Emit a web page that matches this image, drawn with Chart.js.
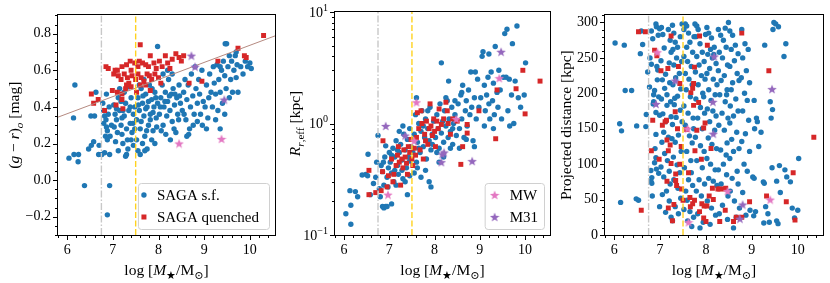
<!DOCTYPE html>
<html><head><meta charset="utf-8">
<script src="https://cdn.jsdelivr.net/npm/chart.js@4.4.0/dist/chart.umd.min.js"></script>
<style>
html,body{margin:0;padding:0;background:#fff;}
#wrap{position:relative;width:830px;height:283px;overflow:hidden;}
canvas{position:absolute;top:0;}
</style></head><body>
<div id="wrap">
<canvas id="c1" width="280" height="283" style="left:0px"></canvas>
<canvas id="c2" width="275" height="283" style="left:280px"></canvas>
<canvas id="c3" width="275" height="283" style="left:555px"></canvas>
</div>
<script>
// ---------------- data ----------------
const massTicks = [6, 7, 8, 9, 10];
const colorTicks = [-0.2, 0, 0.2, 0.4, 0.6, 0.8];
const sizeTicks = [0.1, 1, 10];
const distTicks = [0, 50, 100, 150, 200, 250, 300];
const limitLines = [6.75, 7.5];
const divideLineX = [5.8, 10.55];
const divideLineY = [0.344, 0.788];

// panel 1: (g-r)_o vs log M*
const colorSf = [
[6.04,0.12],[6.15,0.14],[6.25,0.14],[6.24,0.10],[6.17,0.52],[6.14,0.34],[6.38,-0.03],[6.93,-0.03],[6.88,-0.19],
[6.47,0.17],[6.53,0.19],[6.58,0.21],[6.52,0.35],[6.60,0.35],[6.63,0.48],[6.70,0.19],[6.69,0.14],[6.76,0.14],[6.82,0.15],[6.93,0.14],[6.88,0.27],[6.86,0.47],
[6.80,0.38],[6.82,0.35],[6.85,0.33],[6.80,0.31],[6.86,0.29],[6.90,0.36],[6.92,0.40],[6.88,0.22],[6.94,0.24],[6.97,0.30],[6.84,0.24],[6.78,0.42],
[7.02,0.41],[7.05,0.36],[7.08,0.33],[7.03,0.29],[7.10,0.26],[7.06,0.21],[7.12,0.45],[7.15,0.38],[7.18,0.30],[7.20,0.25],[7.22,0.20],[7.25,0.35],[7.28,0.42],[7.30,0.28],[7.32,0.22],[7.35,0.38],[7.38,0.31],[7.40,0.45],[7.42,0.26],[7.45,0.36],[7.48,0.40],[7.12,0.16],[7.30,0.14],[7.33,0.17],[7.45,0.19],[7.20,0.34],[7.25,0.48],[7.15,0.50],[7.35,0.51],[7.40,0.22],[7.28,0.13],[7.18,0.43],[7.08,0.39],[7.38,0.40],[7.22,0.38],[7.48,0.28],[7.44,0.31],
[7.52,0.33],[7.55,0.45],[7.58,0.38],[7.60,0.28],[7.62,0.50],[7.65,0.42],[7.68,0.35],[7.70,0.24],[7.72,0.47],[7.75,0.40],[7.78,0.30],[7.80,0.52],[7.82,0.36],[7.85,0.44],[7.88,0.27],[7.90,0.40],[7.92,0.48],[7.95,0.34],[7.98,0.42],[7.55,0.16],[7.60,0.14],[7.70,0.16],[7.52,0.22],[7.65,0.20],[7.75,0.17],[7.85,0.22],[7.92,0.20],[7.58,0.52],[7.68,0.55],[7.78,0.43],[7.88,0.37],[7.96,0.29],[7.62,0.32],[7.72,0.39],[7.82,0.33],[7.66,0.46],[7.86,0.50],[7.94,0.45],[7.56,0.41],[7.74,0.27],
[8.02,0.36],[8.05,0.45],[8.08,0.52],[8.10,0.30],[8.12,0.40],[8.15,0.48],[8.18,0.35],[8.20,0.43],[8.22,0.55],[8.25,0.38],[8.28,0.47],[8.30,0.32],[8.32,0.50],[8.35,0.41],[8.38,0.26],[8.40,0.45],[8.42,0.36],[8.45,0.52],[8.48,0.42],[8.06,0.27],[8.16,0.25],[8.26,0.22],[8.34,0.28],[8.44,0.33],[8.10,0.58],[8.20,0.60],[8.30,0.58],[8.14,0.43],[8.24,0.46],[8.36,0.47],[8.04,0.40],[8.46,0.46],[7.98,0.73],
[8.52,0.38],[8.55,0.48],[8.58,0.55],[8.60,0.33],[8.62,0.44],[8.65,0.52],[8.68,0.28],[8.70,0.40],[8.72,0.58],[8.75,0.46],[8.78,0.36],[8.80,0.62],[8.82,0.50],[8.85,0.42],[8.88,0.55],[8.90,0.47],[8.92,0.36],[8.95,0.60],[8.98,0.43],[8.66,0.25],[8.62,0.24],[8.85,0.32],[8.56,0.36],[8.76,0.30],[8.96,0.30],
[9.02,0.40],[9.05,0.52],[9.08,0.34],[9.10,0.45],[9.12,0.58],[9.15,0.48],[9.18,0.40],[9.20,0.62],[9.22,0.53],[9.25,0.47],[9.28,0.63],[9.30,0.38],[9.32,0.55],[9.35,0.48],[9.38,0.60],[9.40,0.42],[9.42,0.65],[9.45,0.57],[9.48,0.50],[9.05,0.28],[9.25,0.33],[9.45,0.36],[9.35,0.62],
[9.46,0.745],[9.49,0.745],[9.52,0.62],[9.55,0.68],[9.58,0.55],[9.60,0.65],[9.62,0.48],[9.65,0.60],[9.68,0.68],[9.70,0.56],[9.72,0.63],[9.70,0.70],[9.74,0.48],[9.80,0.62],[9.85,0.58],[9.90,0.65],[9.95,0.62],[10.0,0.64],[10.03,0.61],[9.55,0.45],[9.35,0.28]
];
const colorQ = [
[7.60,0.74],[10.30,0.79],[9.74,0.72],[9.88,0.68],[9.92,0.67],[9.30,0.65],[8.95,0.54],[8.67,0.53],[8.38,0.69],[8.45,0.67],[8.15,0.68],[8.30,0.66],[7.82,0.68],[7.58,0.65],[7.38,0.65],[7.55,0.62],[7.05,0.60],[6.85,0.62],[6.90,0.61],[7.10,0.60],[7.20,0.62],[7.30,0.63],[7.40,0.60],[7.48,0.64],[7.65,0.64],[7.72,0.63],[7.78,0.62],[7.90,0.64],[7.95,0.61],[8.02,0.65],[8.08,0.62],[8.20,0.64],[8.25,0.61],[8.50,0.65],[8.55,0.68],
[7.02,0.58],[7.12,0.57],[7.18,0.55],[7.25,0.58],[7.32,0.56],[7.35,0.53],[7.42,0.57],[7.50,0.55],[7.55,0.58],[7.62,0.56],[7.68,0.54],[7.75,0.58],[7.80,0.57],[7.85,0.55],[7.92,0.58],[8.00,0.56],[8.05,0.53],[7.28,0.50],[7.40,0.51],[7.60,0.52],[7.72,0.52],[7.82,0.49],[7.20,0.47],[7.10,0.48],[6.99,0.49],[7.20,0.44],[7.22,0.39],[6.82,0.38],[7.07,0.41],[6.53,0.47],[6.58,0.42],[6.68,0.44],[7.52,0.48],[7.30,0.52]
];
const colorMW = [[8.45,0.20],[9.38,0.225]];
const colorM31 = [[8.72,0.68],[8.80,0.62],[9.44,0.44]];

// panel 2: R_eff [kpc] vs log M*
const sizeSf = [
[6.04,0.155],[6.15,0.125],[6.13,0.25],[6.15,0.185],[6.25,0.245],[6.30,0.22],[6.40,0.345],[6.48,0.35],[6.52,0.34],[6.53,0.53],[6.58,0.23],[6.65,0.29],[6.70,0.33],[6.72,0.45],[6.75,0.78],[6.80,0.22],[6.85,0.18],[6.88,0.175],[6.92,0.18],[6.95,0.18],[7.05,0.19],[6.85,0.37],[6.82,0.42],[6.90,0.50],[6.95,0.33],[6.78,0.26],[6.88,0.28],[6.98,0.40],[7.0,0.55],[6.92,0.63],[6.87,0.45],[6.97,0.27],
[7.02,0.45],[7.05,0.36],[7.08,0.60],[7.10,0.30],[7.12,0.50],[7.15,0.70],[7.18,0.42],[7.20,0.35],[7.22,0.55],[7.25,0.65],[7.28,0.47],[7.30,0.32],[7.32,0.80],[7.35,0.58],[7.38,0.40],[7.40,0.72],[7.42,0.50],[7.45,0.90],[7.48,0.62],[7.15,0.28],[7.28,0.38],[7.40,0.23],[7.45,0.34],[7.35,0.30],[7.12,0.38],[7.22,0.85],[7.30,0.95],[7.45,0.46],[7.05,0.52],[7.18,0.58],
[7.52,0.55],[7.55,0.80],[7.58,1.20],[7.60,0.45],[7.62,0.68],[7.65,1.00],[7.68,0.55],[7.70,0.85],[7.72,1.30],[7.75,0.62],[7.78,0.75],[7.80,1.10],[7.82,0.48],[7.85,0.90],[7.88,0.70],[7.90,1.40],[7.92,0.58],[7.95,0.80],[7.98,1.05],[7.55,0.36],[7.62,0.40],[7.70,0.33],[7.80,0.38],[7.88,0.30],[7.92,0.27],[7.60,1.70],[7.85,1.30],[7.65,0.60],[7.75,0.95],[7.95,0.65],
[8.02,0.75],[8.05,1.20],[8.08,0.90],[8.10,0.60],[8.12,1.50],[8.15,0.82],[8.18,1.05],[8.20,0.68],[8.22,1.30],[8.25,0.95],[8.28,1.60],[8.30,0.75],[8.32,1.10],[8.35,0.85],[8.38,1.40],[8.40,0.65],[8.42,1.00],[8.45,1.20],[8.48,0.78],[8.15,3.50],[8.31,2.40],[8.05,0.55],[8.20,0.50],[8.35,0.60],[8.25,1.70],[8.45,1.60],[8.10,0.45],[8.40,0.90],
[8.52,1.50],[8.55,0.90],[8.58,1.80],[8.60,1.10],[8.62,2.20],[8.65,0.75],[8.68,1.30],[8.70,1.60],[8.72,0.95],[8.75,2.00],[8.78,1.20],[8.80,2.90],[8.82,1.40],[8.85,0.70],[8.88,1.70],[8.90,2.90],[8.92,1.10],[8.95,2.50],[8.98,1.40],[8.55,0.60],[8.70,0.72],[8.88,0.62],[8.60,1.90],
[9.02,1.70],[9.05,4.00],[9.07,4.40],[9.10,2.20],[9.12,1.30],[9.15,1.80],[9.18,2.60],[9.20,4.20],[9.22,1.10],[9.25,2.90],[9.28,1.60],[9.30,2.30],[9.32,1.20],[9.34,4.90],[9.38,1.90],[9.40,1.40],[9.42,3.00],[9.45,2.00],[9.48,1.10],[9.10,0.95],[9.30,0.90],[9.20,1.50],
[9.52,2.60],[9.55,6.40],[9.60,7.00],[9.62,1.30],[9.65,2.50],[9.70,1.80],[9.72,5.20],[9.75,1.00],[9.78,2.40],[9.82,7.50],[9.85,1.70],[9.90,1.40],[9.98,1.80],[10.01,3.50],[9.58,2.60],[9.66,0.95]
];
const sizeQ = [
[6.55,0.38],[6.55,0.23],[6.70,0.24],[6.82,0.25],[6.85,0.37],[6.86,0.70],[6.95,0.27],[6.98,0.34],[7.05,0.48],[7.08,0.30],[7.10,0.35],[7.15,0.42],[7.18,0.52],[7.20,0.62],[7.22,0.45],[7.25,0.28],[7.28,0.48],[7.30,0.40],[7.32,0.58],[7.35,0.50],[7.38,0.44],[7.40,0.35],[7.42,0.62],[7.45,0.55],[7.48,0.72],[7.50,0.48],[7.52,0.42],[7.55,0.60],[7.58,0.52],[7.60,0.75],[7.62,1.25],[7.65,0.90],[7.68,0.58],[7.70,1.30],[7.72,1.00],[7.75,0.48],[7.78,0.80],[7.80,0.70],[7.82,1.05],[7.85,0.65],[7.88,0.90],[7.90,1.50],[7.92,0.95],[7.95,0.78],[7.98,1.10],[8.00,0.85],[8.02,0.62],[8.05,1.05],[8.08,0.90],[8.10,1.35],[8.15,0.98],[8.20,1.10],[8.25,1.55],[8.28,1.30],[8.30,1.00],[8.35,0.80],[8.40,1.10],[8.50,1.05],[8.58,0.43],[8.62,0.62],[8.72,0.98],[8.72,0.82],[8.98,1.30],[9.35,0.73],[9.38,2.00],[9.80,2.05],[9.95,3.00],[10.00,1.22],[10.33,2.40]
];
const sizeMW = [[6.97,0.23],[7.60,1.55],[7.55,0.70],[8.48,1.10],[9.43,2.55]];
const sizeM31 = [[6.92,0.95],[7.35,0.78],[8.17,0.53],[8.21,0.55],[8.15,0.45],[8.83,0.46],[9.47,4.40]];

// panel 3: projected distance [kpc] vs log M*
const distSf = [
[6.02,271],[6.22,268],[6.12,157],[6.16,147],[6.14,46],[6.24,204],[6.38,204],[6.48,51],[6.53,49],[6.49,154],[6.59,288],[6.62,269],[6.57,256],[6.69,153],[6.70,170],[6.73,230],
[6.77,209],[6.81,288],[6.84,277],[6.78,250],[6.81,241],[6.91,298],[6.92,294],[6.99,291],[6.93,238],[6.95,233],[6.94,219],[6.88,204],[6.86,198],[6.86,188],[6.91,173],[6.99,169],[6.91,142],[6.89,122],[6.91,109],[6.88,102],[6.92,93],[6.97,87],[6.80,91],[6.82,81],[6.82,73],[6.83,55],[6.99,40],[6.96,282],[6.85,185],[6.97,195],[6.80,76],
[7.03,293],[7.06,283],[7.09,264],[7.02,246],[7.12,227],[7.05,219],[7.10,207],[7.03,192],[7.15,183],[7.06,171],[7.12,160],[7.08,145],[7.18,138],[7.04,131],[7.10,115],[7.16,105],[7.02,96],[7.20,90],[7.08,82],[7.22,72],[7.14,62],[7.05,57],[7.20,48],[7.12,32],[7.24,25],[7.18,290],[7.22,275],[7.24,258],[7.20,243],[7.15,198],[7.23,188],[7.21,215],[7.24,167],
[7.27,296],[7.30,285],[7.33,272],[7.28,262],[7.36,250],[7.30,240],[7.42,228],[7.34,222],[7.28,212],[7.45,206],[7.38,196],[7.31,184],[7.44,176],[7.35,166],[7.27,156],[7.40,141],[7.33,131],[7.46,118],[7.29,110],[7.37,99],[7.43,88],[7.30,78],[7.39,66],[7.45,52],[7.33,40],[7.40,30],[7.27,20],[7.48,298],[7.44,280],[7.38,265],[7.47,245],[7.32,193],[7.48,160],[7.26,136],
[7.52,290],[7.55,298],[7.58,295],[7.62,285],[7.65,272],[7.58,265],[7.52,252],[7.60,245],[7.68,238],[7.55,228],[7.63,220],[7.70,212],[7.57,205],[7.66,195],[7.52,182],[7.61,172],[7.72,165],[7.55,155],[7.64,140],[7.70,130],[7.58,118],[7.67,105],[7.53,95],[7.62,78],[7.71,70],[7.56,62],[7.65,33],[7.73,25],[7.52,36],[7.60,20],[7.69,12],[7.74,280],[7.71,258],[7.73,150],[7.68,88],[7.59,49],
[7.76,298],[7.80,295],[7.83,290],[7.78,280],[7.87,270],[7.92,258],[7.80,252],[7.96,245],[7.85,240],[7.77,230],[7.90,225],[7.98,220],[7.83,212],[7.93,200],[7.78,192],[7.88,180],[7.97,172],[7.82,165],[7.92,150],[7.77,138],[7.88,126],[7.96,118],[7.80,105],[7.92,95],[7.85,78],[7.97,72],[7.79,62],[7.90,55],[7.82,30],[7.94,18],[7.87,10],[7.99,283],[7.95,195],
[8.02,293],[8.06,285],[8.12,278],[8.18,265],[8.04,255],[8.14,250],[8.22,242],[8.08,235],[8.02,228],[8.16,220],[8.24,212],[8.06,205],[8.20,198],[8.11,190],[8.03,178],[8.15,175],[8.22,168],[8.08,160],[8.19,148],[8.05,137],[8.13,128],[8.23,122],[8.02,108],[8.10,100],[8.20,92],[8.06,80],[8.16,76],[8.24,70],[8.03,48],[8.12,38],[8.21,28],[8.09,15],[8.17,255],[8.10,262],
[8.27,290],[8.32,282],[8.38,275],[8.44,265],[8.29,258],[8.36,250],[8.47,240],[8.27,232],[8.40,225],[8.33,218],[8.46,205],[8.30,198],[8.42,188],[8.35,172],[8.48,165],[8.28,155],[8.40,148],[8.46,130],[8.32,120],[8.44,113],[8.38,100],[8.27,92],[8.45,85],[8.33,72],[8.48,55],[8.36,42],[8.29,30],[8.47,22],[8.49,300],[8.42,292],[8.45,198],
[8.52,288],[8.58,282],[8.64,268],[8.55,262],[8.70,256],[8.62,246],[8.52,238],[8.68,228],[8.58,215],[8.72,218],[8.55,205],[8.65,192],[8.53,182],[8.70,175],[8.60,168],[8.52,158],[8.67,145],[8.56,135],[8.72,122],[8.60,118],[8.52,108],[8.68,90],[8.57,80],[8.70,72],[8.53,62],[8.62,48],[8.73,38],[8.60,10],[8.66,25],
[8.78,290],[8.85,270],[8.92,262],[8.80,250],[8.88,232],[8.77,222],[8.95,215],[8.84,200],[8.90,190],[8.80,175],[8.93,162],[8.86,143],[8.78,132],[8.95,118],[8.83,100],[8.90,90],[8.80,60],[8.96,35],[8.87,28],
[9.05,190],[9.10,165],[9.12,160],[9.06,150],[9.02,82],[9.05,80],[9.08,33],[9.04,27],[9.20,145],[9.25,75],[9.27,73],[9.30,40],[9.35,30],[9.38,18],[9.28,268],[9.40,188],[9.45,177],[9.42,165],[9.46,290],[9.48,300],[9.44,95],[9.26,17],[9.15,125],
[9.52,298],[9.58,294],[9.54,20],[9.57,16],[9.54,76],[9.60,98],[9.70,252],[9.74,270],[9.72,92],[9.76,82],[9.84,75],[9.88,38],[9.93,24],[10.02,108],[10.0,35],[9.62,60]
];
const distQ = [
[6.53,287],[6.68,287],[6.88,261],[6.84,162],[6.81,119],[6.59,35],[6.93,253],[7.02,232],[6.98,107],[7.17,235],[7.05,155],[7.11,160],[7.14,162],[7.15,134],[7.22,127],[7.18,119],[7.24,101],[7.15,76],[7.18,38],[7.27,20],[7.24,281],[7.33,174],[7.40,238],[7.43,214],[7.46,125],[7.43,100],[7.38,150],[7.34,86],[7.34,77],[7.36,70],[7.47,65],[7.50,49],[7.30,43],
[7.71,207],[7.67,201],[7.73,214],[7.75,237],[7.73,183],[7.84,187],[7.58,149],[7.62,88],[7.65,53],[7.66,40],[7.71,44],[7.75,49],[7.76,119],[7.86,281],[7.80,148],[7.86,33],[7.90,107],[7.95,151],[7.98,158],[8.03,268],[7.91,44],[7.96,41],[8.02,41],[7.95,24],[8.00,19],[8.07,55],[8.11,122],[8.14,66],[8.16,50],[8.26,65],[8.30,65],[8.40,65],[8.43,66],[8.42,35],[8.30,19],[8.60,19],[8.66,25],[8.78,25],[8.78,285],[8.95,47],[9.32,55],[9.37,232],[9.75,47],[9.90,88],[9.94,21],[10.35,138]
];
const distMW = [[6.94,258],[7.60,150],[7.62,18],[8.47,62],[9.40,50]];
const distM31 = [[6.91,185],[7.33,218],[8.18,252],[8.15,188],[8.16,143],[8.80,43],[8.74,23],[9.44,206]];

// ---------------- styling ----------------
const FONT = "'Liberation Serif','Times New Roman','DejaVu Serif',serif";
const BLUE = '#1f77b4', RED = '#d62728', PINK = '#e377c2', PURPLE = '#9467bd';
const GREYLINE = '#c8c8c8', GOLD = '#ffd21f', BROWN = '#b58a80';
const TICKSIZE = 14, TITLESIZE = 15.5, LEGSIZE = 15;

function makeStar(color, size) {
  const c = document.createElement('canvas');
  c.width = size; c.height = size;
  const g = c.getContext('2d');
  g.fillStyle = color;
  g.beginPath();
  const R = size / 2, r = R * 0.42, cx = size / 2, cy = size / 2 + R * 0.1;
  for (let i = 0; i < 10; i++) {
    const a = -Math.PI / 2 + i * Math.PI / 5;
    const rr = i % 2 ? r : R;
    g.lineTo(cx + rr * Math.cos(a), cy + rr * Math.sin(a));
  }
  g.closePath(); g.fill();
  return c;
}
const starMW = makeStar(PINK, 10);
const starM31 = makeStar(PURPLE, 10);

const pts = arr => arr.map(p => ({x: p[0], y: p[1]}));

function scatterSet(label, arr, color, style) {
  const d = {label, data: pts(arr), showLine: false, borderWidth: 0,
    backgroundColor: color, borderColor: color};
  if (style === 'circle') { d.pointStyle = 'circle'; d.pointRadius = 2.7; }
  else if (style === 'rect') { d.pointStyle = 'rect'; d.pointRadius = 3.5; }
  else { d.pointStyle = style; d.pointRadius = 5; }
  return d;
}
function vline(x, y0, y1, color, dash) {
  return {label: 'line', data: [{x, y: y0}, {x, y: y1}], showLine: true, pointRadius: 0,
    borderColor: color, borderWidth: 1.4, borderDash: dash, fill: false};
}

function fontFor(s, size) {
  const sz = (s.sub || s.sup) ? size * 0.72 : size;
  return (s.i ? 'italic ' : '') + sz + 'px ' + FONT;
}
function drawRich(ctx, segs, cx, cy, size, rot, align) {
  ctx.save();
  ctx.translate(cx, cy);
  if (rot) ctx.rotate(rot);
  let w = 0;
  for (const s of segs) { ctx.font = fontFor(s, size); w += ctx.measureText(s.t).width; }
  let x = align === 'right' ? -w : -w / 2;
  ctx.fillStyle = '#000';
  ctx.textBaseline = 'alphabetic';
  ctx.textAlign = 'left';
  const base = size * 0.33;
  for (const s of segs) {
    ctx.font = fontFor(s, size);
    let dy = base;
    if (s.sub) dy += size * 0.22;
    if (s.sup) dy -= size * 0.42;
    ctx.fillText(s.t, x, dy);
    x += ctx.measureText(s.t).width;
  }
  ctx.restore();
}

function makeDeco(cfg) {
  return {
    id: 'deco',
    afterDraw(chart) {
      const ctx = chart.ctx, a = chart.chartArea;
      const xs = chart.scales.x, ys = chart.scales.y;
      ctx.save();
      ctx.strokeStyle = '#000'; ctx.lineWidth = 1;
      ctx.strokeRect(Math.round(a.left) - 0.5, Math.round(a.top) - 0.5,
        Math.round(a.right) - Math.round(a.left) + 1, Math.round(a.bottom) - Math.round(a.top) + 1);
      ctx.beginPath();
      const xt = (v, len) => { const p = Math.round(xs.getPixelForValue(v)) + 0.5; ctx.moveTo(p, a.bottom); ctx.lineTo(p, a.bottom + len); };
      const yt = (v, len) => { const p = Math.round(ys.getPixelForValue(v)) + 0.5; ctx.moveTo(a.left, p); ctx.lineTo(a.left - len, p); };
      cfg.xMajor.forEach(v => xt(v, 5));
      cfg.xMinor.forEach(v => xt(v, 3));
      cfg.yMajor.forEach(v => yt(v, 5));
      cfg.yMinor.forEach(v => yt(v, 3));
      ctx.stroke();
      if (cfg.logLabels) {
        cfg.yMajor.forEach(v => {
          const e = Math.round(Math.log10(v));
          const segs = [{t: '10'}, {t: e < 0 ? '\u2212' + (-e) : String(e), sup: 1}];
          drawRich(ctx, segs, a.left - 7, ys.getPixelForValue(v), TICKSIZE, 0, 'right');
        });
      }
      drawRich(ctx, cfg.xTitle, (a.left + a.right) / 2, 270, TITLESIZE, 0);
      drawRich(ctx, cfg.yTitle, cfg.yTitleX, (a.top + a.bottom) / 2, TITLESIZE, -Math.PI / 2);
      if (cfg.legend) {
        const L = cfg.legend;
        ctx.font = LEGSIZE + 'px ' + FONT;
        let tw = 0;
        L.items.forEach(it => { tw = Math.max(tw, ctx.measureText(it.label).width); });
        const w = L.textX + tw + L.padR, h = L.rowH * L.items.length + 2 * L.padV;
        const x = a.right - 6 - w, y = a.bottom - 6 - h;
        ctx.beginPath();
        ctx.roundRect(x + 0.5, y + 0.5, w, h, 3);
        ctx.fillStyle = 'rgba(255,255,255,0.85)';
        ctx.fill();
        ctx.strokeStyle = '#d0d0d0';
        ctx.stroke();
        L.items.forEach((it, i) => {
          const cy = y + L.padV + L.rowH * (i + 0.5);
          const mx = x + L.markX;
          ctx.fillStyle = it.color;
          if (it.shape === 'circle') { ctx.beginPath(); ctx.arc(mx, cy, 2.7, 0, Math.PI * 2); ctx.fill(); }
          else if (it.shape === 'rect') { ctx.fillRect(mx - 2.5, cy - 2.5, 5, 5); }
          else { ctx.drawImage(it.shape, mx - 5, cy - 5); }
          ctx.fillStyle = '#000';
          ctx.textAlign = 'left'; ctx.textBaseline = 'middle';
          ctx.font = LEGSIZE + 'px ' + FONT;
          ctx.fillText(it.label, x + L.textX, cy + 1);
        });
      }
      ctx.restore();
    }
  };
}

function range(a, b, step) { const out = []; for (let v = a; v <= b + 1e-9; v += step) out.push(+v.toFixed(4)); return out; }
const xMinorVals = range(5.8, 10.5, 0.2).filter(v => Math.abs(v - Math.round(v)) > 1e-6);

function panel(id, o) {
  return new Chart(document.getElementById(id), {
    type: 'scatter',
    data: {datasets: o.datasets},
    options: {
      responsive: false, animation: false, events: [],
      layout: {padding: {top: 12, right: o.padRight, left: 0, bottom: 0}},
      plugins: {legend: {display: false}, tooltip: {enabled: false}},
      scales: {
        x: {type: 'linear', min: 5.8, max: 10.55, bounds: 'data',
          afterBuildTicks: s => { s.ticks = massTicks.map(v => ({value: v})); },
          afterFit: s => { s.height = 48; },
          grid: {display: false, drawTicks: false}, border: {display: false},
          ticks: {font: {family: FONT, size: TICKSIZE}, color: '#000', padding: 7, maxRotation: 0, callback: v => String(v)}},
        y: Object.assign({bounds: 'data',
          afterBuildTicks: s => { s.ticks = o.yTicks.map(v => ({value: v})); },
          afterFit: s => { s.width = o.yWidth; },
          grid: {display: false, drawTicks: false}, border: {display: false},
          ticks: {font: {family: FONT, size: TICKSIZE}, color: '#000', padding: 7, display: !o.logLabels, callback: o.yFmt}}, o.yScale)
      }
    },
    plugins: [makeDeco(o.deco)]
  });
}

const xTitle = [{t: 'log ['}, {t: 'M', i: 1}, {t: '\u2605', sub: 1}, {t: '/M'}, {t: '\u2299', sub: 1}, {t: ']'}];

panel('c1', {
  padRight: 3, yWidth: 58, yTicks: colorTicks,
  yScale: {type: 'linear', min: -0.3, max: 0.9},
  yFmt: v => (v < 0 ? '\u2212' : '') + Math.abs(v).toFixed(1),
  datasets: [
    scatterSet('M31', colorM31, PURPLE, starM31),
    scatterSet('MW', colorMW, PINK, starMW),
    vline(limitLines[1], -0.3, 0.9, GOLD, [6, 2.5]),
    vline(limitLines[0], -0.3, 0.9, GREYLINE, [7, 2, 1.5, 2]),
    {label: 'divide', data: divideLineX.map((x, i) => ({x, y: divideLineY[i]})), showLine: true, pointRadius: 0, borderColor: BROWN, borderWidth: 1, fill: false},
    scatterSet('SAGA quenched', colorQ, RED, 'rect'),
    scatterSet('SAGA s.f.', colorSf, BLUE, 'circle')
  ],
  deco: {
    xMajor: massTicks, xMinor: xMinorVals, yMajor: colorTicks,
    yMinor: range(-0.3, 0.9, 0.05).filter(v => Math.abs(v * 5 - Math.round(v * 5)) > 1e-6),
    xTitle,
    yTitle: [{t: '('}, {t: 'g', i: 1}, {t: ' \u2212 '}, {t: 'r', i: 1}, {t: ')'}, {t: 'o', i: 1, sub: 1}, {t: ' [mag]'}],
    yTitleX: 14,
    legend: {markX: 6, textX: 19, padR: 10, padV: 1, rowH: 22,
      items: [{label: 'SAGA s.f.', color: BLUE, shape: 'circle'}, {label: 'SAGA quenched', color: RED, shape: 'rect'}]}
  }
});

const logMinor = [];
[0.1, 1].forEach(d => { for (let k = 2; k <= 9; k++) logMinor.push(+(d * k).toFixed(3)); });
panel('c2', {
  padRight: 0, yWidth: 55, yTicks: sizeTicks, logLabels: true,
  yScale: {type: 'logarithmic', min: 0.1, max: 10},
  yFmt: v => '',
  datasets: [
    scatterSet('M31', sizeM31, PURPLE, starM31),
    scatterSet('MW', sizeMW, PINK, starMW),
    vline(limitLines[1], 0.1, 10, GOLD, [6, 2.5]),
    vline(limitLines[0], 0.1, 10, GREYLINE, [7, 2, 1.5, 2]),
    scatterSet('SAGA quenched', sizeQ, RED, 'rect'),
    scatterSet('SAGA s.f.', sizeSf, BLUE, 'circle')
  ],
  deco: {
    xMajor: massTicks, xMinor: xMinorVals, yMajor: sizeTicks, yMinor: logMinor, logLabels: true,
    xTitle,
    yTitle: [{t: 'R', i: 1}, {t: 'r', i: 1, sub: 1}, {t: ',eff', sub: 1}, {t: ' [kpc]'}],
    yTitleX: 15,
    legend: {markX: 10, textX: 25, padR: 6, padV: 1, rowH: 22,
      items: [{label: 'MW', color: PINK, shape: starMW}, {label: 'M31', color: PURPLE, shape: starM31}]}
  }
});

panel('c3', {
  padRight: 7, yWidth: 50, yTicks: distTicks,
  yScale: {type: 'linear', min: 0, max: 310},
  yFmt: v => String(v),
  datasets: [
    scatterSet('M31', distM31, PURPLE, starM31),
    scatterSet('MW', distMW, PINK, starMW),
    vline(limitLines[1], 0, 310, GOLD, [6, 2.5]),
    vline(limitLines[0], 0, 310, GREYLINE, [7, 2, 1.5, 2]),
    scatterSet('SAGA quenched', distQ, RED, 'rect'),
    scatterSet('SAGA s.f.', distSf, BLUE, 'circle')
  ],
  deco: {
    xMajor: massTicks, xMinor: xMinorVals, yMajor: distTicks,
    yMinor: range(0, 310, 10).filter(v => v % 50 !== 0),
    xTitle,
    yTitle: [{t: 'Projected distance [kpc]'}],
    yTitleX: 11
  }
});
</script>
</body></html>
